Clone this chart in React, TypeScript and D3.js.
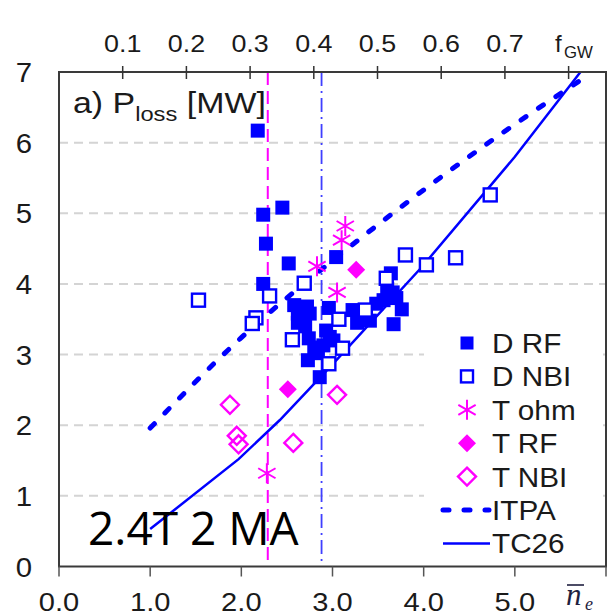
import React from "react";
import * as d3 from "d3";

// ---- data (n_e [1e19 m^-3], P_loss [MW]) ----
const xTickValues = [0, 1, 2, 3, 4, 5, 6];
const xTickLabels = ["0.0", "1.0", "2.0", "3.0", "4.0", "5.0"];
const yTickValues = [0, 1, 2, 3, 4, 5, 6, 7];
const fgwTickValues = [0.1, 0.2, 0.3, 0.4, 0.5, 0.6, 0.7, 0.8];
const fgwTickLabels = ["0.1", "0.2", "0.3", "0.4", "0.5", "0.6", "0.7"];

const dRF: [number, number][] = [
  [2.18, 6.17], [2.24, 4.98], [2.45, 5.08], [2.27, 4.57], [2.52, 4.29], [2.24, 4.0],
  [3.04, 4.38], [2.58, 3.7], [2.62, 3.58], [2.72, 3.68], [2.75, 3.58], [2.62, 3.45],
  [2.7, 3.4], [2.96, 3.66], [3.22, 3.63], [3.3, 3.55], [3.27, 3.45], [3.41, 3.48],
  [3.48, 3.72], [3.56, 3.77], [3.64, 4.15], [3.6, 3.93], [3.66, 3.88], [3.7, 3.8],
  [3.76, 3.64], [3.67, 3.43], [2.74, 3.23], [2.8, 3.1], [2.73, 2.92], [2.84, 3.02],
  [2.93, 3.34], [2.97, 3.25], [2.9, 3.13], [3.01, 3.2], [2.86, 2.68],
];
const dNBI: [number, number][] = [
  [1.53, 3.77], [2.16, 3.52], [2.12, 3.44], [2.31, 3.83], [2.69, 4.01], [2.56, 3.21],
  [2.96, 2.87], [3.07, 3.5], [3.11, 3.09], [3.36, 3.63], [3.59, 4.08], [3.8, 4.41],
  [4.03, 4.27], [4.35, 4.37], [4.73, 5.26],
];
const tOhm: [number, number][] = [
  [3.14, 4.82], [3.1, 4.62], [2.83, 4.25], [3.05, 3.88], [2.28, 1.32],
];
const tRF: [number, number][] = [[3.26, 4.2], [2.51, 2.51]];
const tNBI: [number, number][] = [
  [1.875, 2.29], [1.95, 1.85], [1.97, 1.73], [2.57, 1.75], [3.05, 2.43],
];
const itpa: [number, number][] = [
  [1.0, 1.96], [2.0, 3.24], [3.0, 4.33], [4.0, 5.33], [5.0, 6.26], [5.8, 6.95],
];
const tc26: [number, number][] = [
  [1.0, 0.53], [1.97, 1.52], [2.42, 2.07], [3.0, 2.86], [3.98, 4.24], [5.0, 5.8], [5.72, 7.0],
];
const magentaLineN = 2.29;
const blueLineN = 2.88;

const legendItems = ["D RF", "D NBI", "T ohm", "T RF", "T NBI", "ITPA", "TC26"];

const BLUE = "#0000ff";
const MAG = "#ff00ff";
const FONT = "'Liberation Sans', Arial, sans-serif";

const x = d3.scaleLinear().domain([0, 6]).range([59, 606]);
const y = d3.scaleLinear().domain([0, 7]).range([566.5, 72]);
const xf = d3.scaleLinear().domain([0, 0.8587]).range([59, 606]);

const lineGen = d3.line<[number, number]>().x((d) => x(d[0])).y((d) => y(d[1]));
const itpaGen = d3
  .line<[number, number]>()
  .x((d) => x(d[0]))
  .y((d) => y(d[1]))
  .curve(d3.curveMonotoneX);

function T({ x: tx, y: ty, sx = 1.12, size, anchor = "middle", children, fill = "#1a1a1a" }: any) {
  return (
    <text
      transform={`translate(${tx},${ty}) scale(${sx},1)`}
      fontSize={size}
      fontFamily={FONT}
      textAnchor={anchor}
      fill={fill}
    >
      {children}
    </text>
  );
}

function FilledSq({ cx, cy, s = 14 }: any) {
  return <rect x={cx - s / 2} y={cy - s / 2} width={s} height={s} fill={BLUE} />;
}
function OpenSq({ cx, cy, s = 13 }: any) {
  return (
    <rect x={cx - s / 2} y={cy - s / 2} width={s} height={s} fill="#fff" stroke={BLUE} strokeWidth={2.4} />
  );
}
function Diamond({ cx, cy, r = 9, filled }: any) {
  const p = `M${cx},${cy - r}L${cx + r},${cy}L${cx},${cy + r}L${cx - r},${cy}Z`;
  return filled ? (
    <path d={p} fill={MAG} />
  ) : (
    <path d={p} fill="none" stroke={MAG} strokeWidth={2.4} />
  );
}
function Star({ cx, cy, r = 10 }: any) {
  const a = Math.PI / 6;
  const dx = r * Math.cos(a);
  const dy = r * Math.sin(a);
  const p = `M${cx},${cy - r}L${cx},${cy + r}M${cx - dx},${cy - dy}L${cx + dx},${cy + dy}M${cx - dx},${cy + dy}L${cx + dx},${cy - dy}`;
  return <path d={p} stroke={MAG} strokeWidth={2} fill="none" />;
}

export default function App() {
  const left = 59, right = 606, top = 72, bottom = 566.5;
  const legX = 467, legTextX = 492, legY0 = 343, legDy = 33.4;
  return (
    <svg
      width={616}
      height={616}
      style={{ position: "absolute", left: 0, top: 0, background: "#fff" }}
    >
      <rect width={616} height={616} fill="#fff" />
      {/* gridlines */}
      {yTickValues.slice(1, 7).map((v) => (
        <line key={v} x1={left} x2={right} y1={y(v)} y2={y(v)} stroke="#d4d4d4" strokeWidth={2} strokeDasharray="9,6" />
      ))}
      {/* vertical reference lines */}
      <line x1={x(magentaLineN)} x2={x(magentaLineN)} y1={top} y2={bottom} stroke={MAG} strokeWidth={2} strokeDasharray="13,6" />
      <line x1={x(blueLineN)} x2={x(blueLineN)} y1={top} y2={bottom} stroke="#3f3fff" strokeWidth={1.8} strokeDasharray="14,5,2,5" />
      {/* curves */}
      <path d={itpaGen(itpa) || ""} fill="none" stroke={BLUE} strokeWidth={5} strokeDasharray="6,15" strokeLinecap="round" />
      <path d={lineGen(tc26) || ""} fill="none" stroke={BLUE} strokeWidth={2.5} />
      {/* markers */}
      {dRF.map((d, i) => <FilledSq key={"r" + i} cx={x(d[0])} cy={y(d[1])} />)}
      {dNBI.map((d, i) => <OpenSq key={"n" + i} cx={x(d[0])} cy={y(d[1])} />)}
      {tRF.map((d, i) => <Diamond key={"tr" + i} cx={x(d[0])} cy={y(d[1])} filled />)}
      {tNBI.map((d, i) => <Diamond key={"tn" + i} cx={x(d[0])} cy={y(d[1])} />)}
      {tOhm.map((d, i) => <Star key={"to" + i} cx={x(d[0])} cy={y(d[1])} />)}
      {/* legend */}
      <rect x={424} y={326} width={179} height={234} fill="#fff" />
      {legendItems.map((lab, i) => {
        const ly = legY0 + i * legDy;
        return (
          <g key={lab}>
            {i === 0 && <FilledSq cx={legX} cy={ly} s={13} />}
            {i === 1 && <OpenSq cx={legX} cy={ly} s={12} />}
            {i === 2 && <Star cx={legX} cy={ly} r={10} />}
            {i === 3 && <Diamond cx={legX} cy={ly} r={9} filled />}
            {i === 4 && <Diamond cx={legX} cy={ly} r={9} />}
            {i === 5 && (
              <line x1={443} x2={489} y1={ly} y2={ly} stroke={BLUE} strokeWidth={5} strokeDasharray="6,15" strokeLinecap="round" />
            )}
            {i === 6 && <line x1={443} x2={490} y1={ly} y2={ly} stroke={BLUE} strokeWidth={2.5} />}
            <T x={legTextX} y={ly + 10} size={27} anchor="start" sx={1.1}>{lab}</T>
          </g>
        );
      })}
      {/* frame */}
      <rect x={left} y={top} width={right - left} height={bottom - top} fill="none" stroke="#3a3a3a" strokeWidth={2} />
      {/* bottom ticks */}
      {xTickValues.map((v) => (
        <line key={v} x1={x(v)} x2={x(v)} y1={bottom} y2={bottom + 10} stroke="#555" strokeWidth={1.5} />
      ))}
      {xTickLabels.map((l, i) => (
        <T key={l} x={x(xTickValues[i])} y={611} size={26}>{l}</T>
      ))}
      {/* top ticks */}
      {fgwTickValues.map((v) => (
        <line key={v} x1={xf(v)} x2={xf(v)} y1={top - 6} y2={top + 7} stroke="#333" strokeWidth={1.5} />
      ))}
      {fgwTickLabels.map((l, i) => (
        <T key={l} x={xf(fgwTickValues[i])} y={52} size={24}>{l}</T>
      ))}
      <T x={555} y={52} size={24} anchor="start" sx={1.0}>f</T>
      <T x={564} y={58} size={16} anchor="start" sx={1.05}>GW</T>
      {/* left labels */}
      {yTickValues.map((v) => (
        <T key={v} x={24} y={y(v) + 10} size={28} sx={1.05}>{String(v)}</T>
      ))}
      {/* n_e label */}
      <text x={566} y={605} fontSize={31} fontStyle="italic" fontFamily="'Liberation Serif', serif" fill="#1f1f3f">n</text>
      <line x1={567} x2={584} y1={585} y2={585} stroke="#1f1f3f" strokeWidth={1.6} />
      <text x={585} y={610} fontSize={18} fontStyle="italic" fontFamily="'Liberation Serif', serif" fill="#1f1f3f">e</text>
      {/* title */}
      <text transform="translate(73,113) scale(1.13,1)" fontSize={30} fontFamily={FONT} fill="#1a1a1a">
        a) P
        <tspan fontSize={21} dy={8}>loss</tspan>
        <tspan dy={-8}> [MW]</tspan>
      </text>
      {/* annotation */}
      <text x={88} y={545} fontSize={46} fontFamily="'Open Sans', sans-serif" fill="#000">2.4T 2 MA</text>
    </svg>
  );
}
